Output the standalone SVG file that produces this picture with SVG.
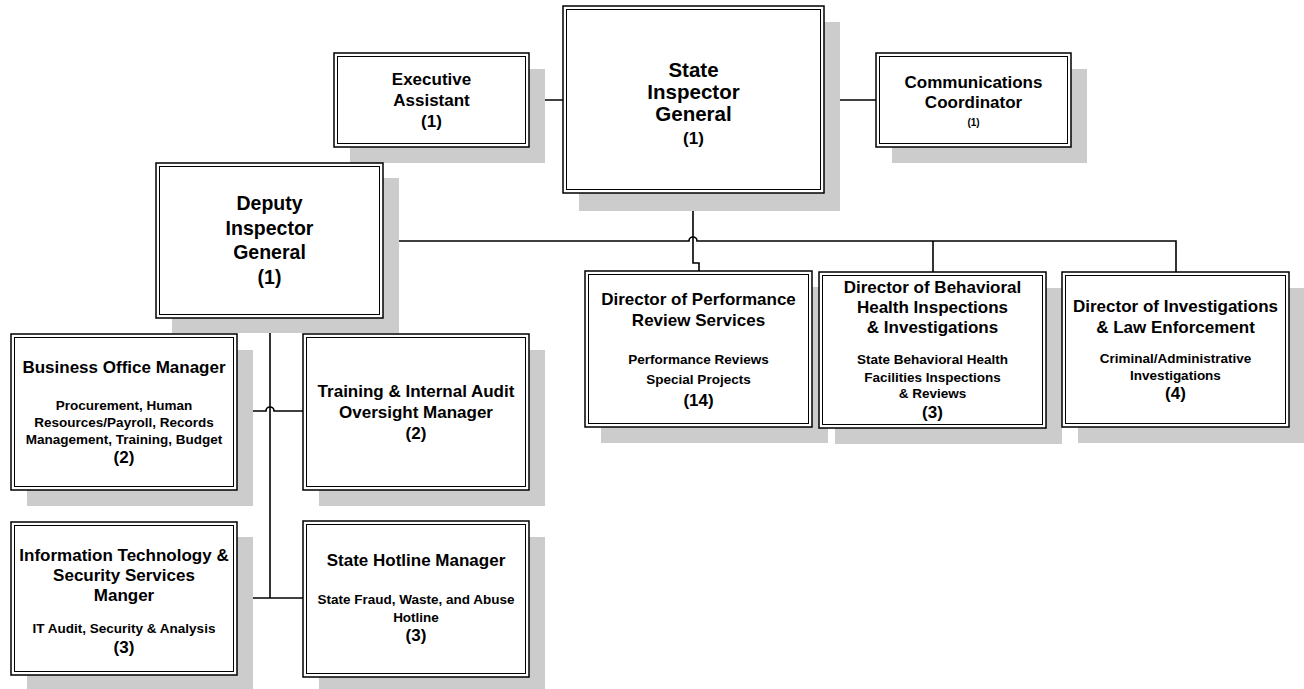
<svg xmlns="http://www.w3.org/2000/svg" width="1304" height="689" viewBox="0 0 1304 689">
<style>
.sh{fill:#cccccc;stroke:none}
.bo{fill:#ffffff;stroke:#000;stroke-width:1.5}
.bi{fill:none;stroke:#000;stroke-width:1}
text{font-family:"Liberation Sans",Arial,sans-serif;font-weight:bold;fill:#000;text-anchor:middle}
.t{font-size:17px}
.tl{font-size:20.5px}
.td{font-size:19.5px}
.s{font-size:13.5px}
.xs{font-size:10px}
.c{fill:none;stroke:#000;stroke-width:1.6}
</style>
<g id="connectors">
<path class="c" d="M529,100 H563"/>
<path class="c" d="M824,100 H876"/>
<path class="c" d="M693,193 V263 H699 V271"/>
<path class="c" d="M383,241 H689 a4,4 0 0 1 8,0 H1176 V272"/>
<path class="c" d="M933,241 V272"/>
<path class="c" d="M270,318 V598"/>
<path class="c" d="M237,411 H266 a4,4 0 0 1 8,0 H303"/>
<path class="c" d="M237,598 H303"/>
</g>
<g id="n-exec">
<rect class="sh" x="350" y="69" width="195" height="94"/>
<rect class="bo" x="334" y="53" width="195" height="94"/>
<rect class="bi" x="337.5" y="56.5" width="188" height="87"/>
<text class="t" x="431.5" y="85">Executive</text>
<text class="t" x="431.5" y="106">Assistant</text>
<text class="t" x="431.5" y="127">(1)</text>
</g>
<g id="n-sig">
<rect class="sh" x="579" y="22" width="261" height="189"/>
<rect class="bo" x="563" y="6" width="261" height="187"/>
<rect class="bi" x="566.5" y="9.5" width="254" height="180"/>
<text class="tl" x="693.5" y="77">State</text>
<text class="tl" x="693.5" y="99">Inspector</text>
<text class="tl" x="693.5" y="121">General</text>
<text class="t" x="693.5" y="144">(1)</text>
</g>
<g id="n-comm">
<rect class="sh" x="892" y="69" width="195" height="94"/>
<rect class="bo" x="876" y="53" width="195" height="94"/>
<rect class="bi" x="879.5" y="56.5" width="188" height="87"/>
<text class="t" x="973.5" y="88">Communications</text>
<text class="t" x="973.5" y="108">Coordinator</text>
<text class="xs" x="973.5" y="126">(1)</text>
</g>
<g id="n-deputy">
<rect class="sh" x="172" y="178" width="227" height="155"/>
<rect class="bo" x="156" y="163" width="227" height="155"/>
<rect class="bi" x="159.5" y="166.5" width="220" height="148"/>
<text class="td" x="269.5" y="210">Deputy</text>
<text class="td" x="269.5" y="235">Inspector</text>
<text class="td" x="269.5" y="259">General</text>
<text class="td" x="269.5" y="284">(1)</text>
</g>
<g id="n-perf">
<rect class="sh" x="601" y="287" width="227" height="156"/>
<rect class="bo" x="585" y="271" width="227" height="156"/>
<rect class="bi" x="588.5" y="274.5" width="220" height="149"/>
<text class="t" x="698.5" y="305">Director of Performance</text>
<text class="t" x="698.5" y="326">Review Services</text>
<text class="s" x="698.5" y="364">Performance Reviews</text>
<text class="s" x="698.5" y="384">Special Projects</text>
<text class="t" x="698.5" y="406">(14)</text>
</g>
<g id="n-behav">
<rect class="sh" x="835" y="288" width="227" height="156"/>
<rect class="bo" x="819" y="272" width="227" height="156"/>
<rect class="bi" x="822.5" y="275.5" width="220" height="149"/>
<text class="t" x="932.5" y="293">Director of Behavioral</text>
<text class="t" x="932.5" y="313">Health Inspections</text>
<text class="t" x="932.5" y="333">&amp; Investigations</text>
<text class="s" x="932.5" y="364">State Behavioral Health</text>
<text class="s" x="932.5" y="382">Facilities Inspections</text>
<text class="s" x="932.5" y="398">&amp; Reviews</text>
<text class="t" x="932.5" y="418">(3)</text>
</g>
<g id="n-invest">
<rect class="sh" x="1078" y="288" width="227" height="155"/>
<rect class="bo" x="1062" y="272" width="227" height="155"/>
<rect class="bi" x="1065.5" y="275.5" width="220" height="148"/>
<text class="t" x="1175.5" y="312">Director of Investigations</text>
<text class="t" x="1175.5" y="333">&amp; Law Enforcement</text>
<text class="s" x="1175.5" y="363">Criminal/Administrative</text>
<text class="s" x="1175.5" y="380">Investigations</text>
<text class="t" x="1175.5" y="399">(4)</text>
</g>
<g id="n-business">
<rect class="sh" x="27" y="350" width="226" height="156"/>
<rect class="bo" x="11" y="334" width="226" height="156"/>
<rect class="bi" x="14.5" y="337.5" width="219" height="149"/>
<text class="t" x="124" y="373">Business Office Manager</text>
<text class="s" x="124" y="410">Procurement, Human</text>
<text class="s" x="124" y="427">Resources/Payroll, Records</text>
<text class="s" x="124" y="444">Management, Training, Budget</text>
<text class="t" x="124" y="463">(2)</text>
</g>
<g id="n-training">
<rect class="sh" x="319" y="350" width="226" height="156"/>
<rect class="bo" x="303" y="334" width="226" height="156"/>
<rect class="bi" x="306.5" y="337.5" width="219" height="149"/>
<text class="t" x="416" y="397">Training &amp; Internal Audit</text>
<text class="t" x="416" y="418">Oversight Manager</text>
<text class="t" x="416" y="439">(2)</text>
</g>
<g id="n-it">
<rect class="sh" x="27" y="537" width="226" height="154"/>
<rect class="bo" x="11" y="522" width="226" height="153"/>
<rect class="bi" x="14.5" y="525.5" width="219" height="146"/>
<text class="t" x="124" y="561">Information Technology &amp;</text>
<text class="t" x="124" y="581">Security Services</text>
<text class="t" x="124" y="601">Manger</text>
<text class="s" x="124" y="633">IT Audit, Security &amp; Analysis</text>
<text class="t" x="124" y="653">(3)</text>
</g>
<g id="n-hotline">
<rect class="sh" x="319" y="537" width="226" height="156"/>
<rect class="bo" x="303" y="521" width="226" height="156"/>
<rect class="bi" x="306.5" y="524.5" width="219" height="149"/>
<text class="t" x="416" y="566">State Hotline Manager</text>
<text class="s" x="416" y="604">State Fraud, Waste, and Abuse</text>
<text class="s" x="416" y="622">Hotline</text>
<text class="t" x="416" y="641">(3)</text>
</g>
</svg>
